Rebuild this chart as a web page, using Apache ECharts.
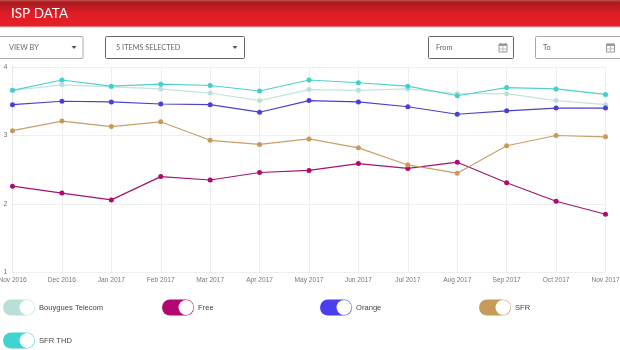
<!DOCTYPE html>
<html>
<head>
<meta charset="utf-8">
<title>ISP DATA</title>
<style>
html, body { margin: 0; padding: 0; background: #fff; }
#main { width: 620px; height: 350px; }
</style>
<script src="https://cdn.jsdelivr.net/npm/echarts@6/dist/echarts.min.js"></script>
</head>
<body>
<div id="main"></div>
<script>
var months = ['Nov 2016', 'Dec 2016', 'Jan 2017', 'Feb 2017', 'Mar 2017', 'Apr 2017', 'May 2017', 'Jun 2017', 'Jul 2017', 'Aug 2017', 'Sep 2017', 'Oct 2017', 'Nov 2017'];
var bouygues = [3.66, 3.74, 3.71, 3.68, 3.62, 3.51, 3.67, 3.66, 3.68, 3.61, 3.61, 3.51, 3.45];
var free = [2.26, 2.16, 2.06, 2.40, 2.35, 2.46, 2.49, 2.59, 2.52, 2.61, 2.31, 2.04, 1.85];
var orange = [3.45, 3.50, 3.49, 3.46, 3.45, 3.34, 3.51, 3.49, 3.42, 3.31, 3.36, 3.40, 3.40];
var sfr = [3.07, 3.21, 3.13, 3.20, 2.93, 2.87, 2.95, 2.82, 2.57, 2.45, 2.85, 3.00, 2.98];
var sfrThd = [3.66, 3.81, 3.72, 3.75, 3.73, 3.65, 3.81, 3.77, 3.72, 3.58, 3.70, 3.68, 3.60];

var FONT = 'Lato, "Open Sans", sans-serif';
var LABEL_FONT = '"Liberation Sans", Arial, sans-serif';

function makeSeries(name, values, color, lineColor) {
    return {
        name: name,
        type: 'line',
        data: values,
        symbol: 'circle',
        symbolSize: 5,
        silent: true,
        lineStyle: { color: lineColor, width: 1.2 },
        itemStyle: { color: color }
    };
}

// 开关样式的图例
function toggle(x, cy, name, color) {
    return [
        { type: 'rect', shape: { x: x, y: cy - 8, width: 32, height: 16, r: 8 }, style: { fill: color } },
        { type: 'circle', shape: { cx: x + 24, cy: cy, r: 7.5 }, style: { fill: '#fff' } },
        { type: 'text', x: x + 36, y: cy, style: { text: name, fill: '#444', font: '7.6px ' + LABEL_FONT, textVerticalAlign: 'middle' } }
    ];
}

// 下拉框 / 日期框
function box(x, w, label, darker, pad) {
    return [
        { type: 'rect', shape: { x: x, y: 36.5, width: w, height: 22, r: 1 }, style: { fill: '#fff', stroke: darker ? '#666' : '#aaa', lineWidth: 1 } },
        { type: 'text', x: x + pad, y: 47.5, style: { text: label, fill: '#666', font: '7.3px ' + FONT, textVerticalAlign: 'middle' } }
    ];
}

function caret(x) {
    return { type: 'polygon', shape: { points: [[x - 2.5, 46], [x + 2.5, 46], [x, 49]] }, style: { fill: '#555' } };
}

function calendar(x) {
    var out = [
        { type: 'rect', shape: { x: x - 4, y: 44, width: 8, height: 8 }, style: { fill: '#fff', stroke: '#999', lineWidth: 1 } },
        { type: 'rect', shape: { x: x - 4, y: 44, width: 8, height: 2 }, style: { fill: '#999' } },
        { type: 'line', shape: { x1: x - 2.5, y1: 43, x2: x - 2.5, y2: 45 }, style: { stroke: '#999' } },
        { type: 'line', shape: { x1: x + 2.5, y1: 43, x2: x + 2.5, y2: 45 }, style: { stroke: '#999' } },
        { type: 'line', shape: { x1: x - 4, y1: 49, x2: x + 4, y2: 49 }, style: { stroke: '#bbb' } },
        { type: 'line', shape: { x1: x, y1: 46, x2: x, y2: 52 }, style: { stroke: '#bbb' } }
    ];
    return out;
}

var graphics = [
    {
        type: 'rect',
        shape: { x: 0, y: 0, width: 620, height: 27 },
        style: {
            fill: new echarts.graphic.LinearGradient(0, 0, 0, 1, [
                { offset: 0, color: '#c0524f' },
                { offset: 0.08, color: '#a81a1e' },
                { offset: 0.5, color: '#e01d25' },
                { offset: 1, color: '#e81f28' }
            ])
        }
    },
    { type: 'line', shape: { x1: 0, y1: 27, x2: 620, y2: 27 }, style: { stroke: '#ccc' } },
    { type: 'text', x: 11, y: 14, style: { text: 'ISP DATA', fill: '#fff', font: '13.5px ' + FONT, textVerticalAlign: 'middle' } }
];
graphics = graphics.concat(
    box(-1, 84, 'VIEW BY', false, 10), [caret(74)],
    box(105.5, 139, '5 ITEMS SELECTED', true, 10.5), [caret(235)],
    box(428.5, 85, 'From', true, 7.5), calendar(503),
    box(535.5, 90, 'To', false, 7.5), calendar(610.5),
    toggle(3, 307.5, 'Bouygues Telecom', '#b9e0d8'),
    toggle(162, 307.5, 'Free', '#b0086e'),
    toggle(320, 307.5, 'Orange', '#4a3ff0'),
    toggle(479, 307.5, 'SFR', '#c89a5a'),
    toggle(3, 340.5, 'SFR THD', '#3fd4d0')
);

var myChart = echarts.init(document.getElementById('main'));

var option = {
    animation: false,
    backgroundColor: '#fff',
    grid: { left: 12.5, right: 14.5, top: 67, bottom: 77.5, containLabel: false, outerBoundsMode: 'none' },
    xAxis: {
        type: 'category',
        boundaryGap: false,
        data: months,
        axisLine: { lineStyle: { color: '#eee' } },
        axisTick: { show: false },
        splitLine: { show: true, lineStyle: { color: '#eee' } },
        axisLabel: { interval: 0, color: '#777', fontSize: 6.6, fontFamily: LABEL_FONT, margin: 4, hideOverlap: false }
    },
    yAxis: {
        type: 'value',
        min: 1,
        max: 4,
        interval: 1,
        axisLine: { show: true, lineStyle: { color: '#e4e4e4' } },
        axisTick: { show: false },
        splitLine: { lineStyle: { color: '#eee' } },
        axisLabel: { color: '#777', fontSize: 7, fontFamily: LABEL_FONT, margin: 5 }
    },
    series: [
        makeSeries('Bouygues Telecom', bouygues, '#b9e0d8', '#c3e3dc'),
        makeSeries('Free', free, '#b0086e', '#a1156f'),
        makeSeries('Orange', orange, '#4a3fdc', '#4b40c8'),
        makeSeries('SFR', sfr, '#c89a5a', '#c89f68'),
        makeSeries('SFR THD', sfrThd, '#3fd0cc', '#52cfcb')
    ],
    graphic: { elements: graphics }
};

myChart.setOption(option);
</script>
</body>
</html>
